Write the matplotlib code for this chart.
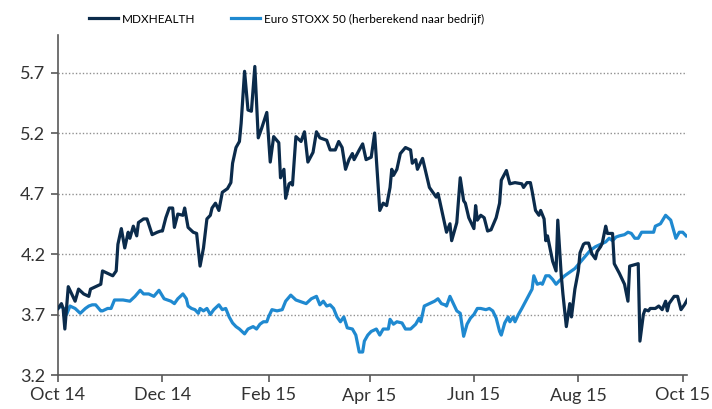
import numpy as np
import pandas as pd
import matplotlib
matplotlib.use("Agg")
import matplotlib.pyplot as plt

START = "2014-10-01"

# MDXHEALTH (days since START, value)
mdx_days = [0, 2, 3, 4, 6, 8, 10, 12, 15, 18, 19, 22, 25, 26, 29, 32, 34, 35, 37, 39, 41, 42, 44, 46, 47,
            50, 52, 55, 58, 60, 61, 63, 65, 67, 68, 70, 73, 74, 76, 79, 81, 83, 85, 87, 89, 90, 92, 94, 96,
            99, 101, 102, 104, 106, 107, 109, 111, 113, 115, 117, 119, 122, 124, 126, 129, 130, 132, 133,
            135, 136, 137, 139, 142, 144, 146, 149, 151, 153, 157, 159, 162, 164, 166, 168, 170, 172, 173,
            176, 178, 180, 183, 185, 188, 190, 192, 194, 195, 196, 198, 200, 203, 206, 207, 209, 210, 213,
            217, 221, 222, 223, 227, 229, 230, 233, 235, 237, 238, 240, 243, 244, 245, 247, 249, 251, 253,
            256, 258, 259, 262, 264, 267, 271, 272, 274, 276, 277, 279, 281, 282, 284, 285, 286, 289, 291,
            292, 294, 295, 297, 299, 300, 302, 304, 305, 307, 308, 310, 312, 314, 315, 317, 318, 320, 321,
            324, 325, 328, 331, 333, 334, 339, 340, 342, 343, 345, 346, 349, 351, 353, 355, 356, 357, 359,
            360, 362, 364, 366, 368]
mdx_vals = [3.75, 3.79, 3.75, 3.58, 3.93, 3.87, 3.81, 3.91, 3.87, 3.85, 3.91, 3.93, 3.95, 4.06, 4.04, 4.02,
            4.06, 4.28, 4.41, 4.25, 4.38, 4.33, 4.43, 4.35, 4.46, 4.49, 4.49, 4.36, 4.38, 4.39, 4.39, 4.50,
            4.58, 4.58, 4.42, 4.53, 4.52, 4.58, 4.42, 4.38, 4.37, 4.10, 4.25, 4.49, 4.52, 4.58, 4.62, 4.56,
            4.71, 4.74, 4.79, 4.95, 5.08, 5.13, 5.28, 5.71, 5.39, 5.38, 5.75, 5.16, 5.24, 5.37, 4.96, 5.17,
            5.12, 4.83, 4.90, 4.66, 4.78, 4.79, 4.77, 5.17, 5.13, 5.21, 4.96, 5.04, 5.21, 5.16, 5.14, 5.06,
            5.06, 5.13, 5.08, 4.90, 4.98, 5.03, 4.98, 5.06, 5.11, 4.98, 5.00, 5.20, 4.56, 4.62, 4.60, 4.75,
            4.90, 4.85, 4.90, 5.03, 5.08, 5.06, 4.95, 4.98, 4.90, 4.99, 4.75, 4.67, 4.70, 4.64, 4.38, 4.45,
            4.31, 4.46, 4.83, 4.64, 4.62, 4.50, 4.41, 4.60, 4.48, 4.52, 4.50, 4.39, 4.40, 4.50, 4.62, 4.81,
            4.89, 4.78, 4.79, 4.78, 4.75, 4.79, 4.79, 4.72, 4.56, 4.52, 4.56, 4.49, 4.31, 4.35, 4.14, 4.06,
            4.48, 4.03, 3.87, 3.60, 3.79, 3.68, 3.91, 4.06, 4.21, 4.28, 4.29, 4.29, 4.20, 4.16, 4.22, 4.26,
            4.29, 4.43, 4.37, 4.37, 4.12, 4.04, 3.95, 3.81, 4.10, 4.12, 3.48, 3.70, 3.74, 3.73, 3.75, 3.75,
            3.77, 3.74, 3.81, 3.73, 3.79, 3.83, 3.85, 3.85, 3.74, 3.78, 3.83]

# Euro STOXX 50 (herberekend naar bedrijf)
sx_days = [0, 2, 4, 5, 7, 10, 13, 16, 18, 20, 22, 25, 26, 29, 31, 33, 38, 42, 45, 48, 50, 53, 56, 59, 62,
           66, 68, 70, 73, 75, 76, 78, 80, 82, 83, 85, 87, 89, 91, 94, 96, 98, 100, 102, 104, 106, 109,
           111, 114, 116, 118, 120, 122, 123, 125, 128, 131, 133, 136, 139, 145, 148, 151, 153, 155, 157,
           159, 161, 163, 165, 167, 169, 172, 174, 175, 176, 178, 179, 181, 183, 186, 188, 190, 193, 194,
           196, 198, 201, 203, 206, 209, 211, 212, 214, 217, 220, 222, 224, 226, 227, 229, 231, 233, 235,
           237, 239, 241, 243, 245, 247, 250, 252, 254, 256, 258, 259, 261, 263, 264, 266, 267, 269, 271,
           274, 277, 278, 280, 282, 283, 285, 287, 289, 291, 293, 296, 299, 302, 305, 308, 311, 314, 317,
           320, 322, 324, 326, 328, 331, 333, 335, 337, 339, 341, 345, 348, 349, 352, 355, 358, 359, 361,
           363, 365, 367]
sx_vals = [3.75, 3.77, 3.74, 3.70, 3.77, 3.75, 3.71, 3.75, 3.77, 3.78, 3.78, 3.73, 3.73, 3.75, 3.75, 3.82,
           3.82, 3.81, 3.85, 3.90, 3.87, 3.87, 3.85, 3.90, 3.83, 3.81, 3.79, 3.83, 3.87, 3.83, 3.77, 3.75,
           3.74, 3.71, 3.75, 3.73, 3.75, 3.70, 3.74, 3.78, 3.74, 3.75, 3.68, 3.63, 3.60, 3.58, 3.54, 3.58,
           3.60, 3.58, 3.62, 3.64, 3.64, 3.68, 3.74, 3.73, 3.74, 3.81, 3.86, 3.82, 3.79, 3.83, 3.85, 3.78,
           3.81, 3.77, 3.78, 3.75, 3.68, 3.64, 3.68, 3.59, 3.58, 3.53, 3.46, 3.39, 3.39, 3.48, 3.53, 3.56,
           3.58, 3.53, 3.58, 3.58, 3.66, 3.62, 3.64, 3.63, 3.58, 3.58, 3.62, 3.67, 3.64, 3.77, 3.79, 3.81,
           3.83, 3.79, 3.78, 3.77, 3.85, 3.79, 3.73, 3.71, 3.52, 3.62, 3.67, 3.70, 3.75, 3.75, 3.74, 3.75,
           3.73, 3.67, 3.56, 3.53, 3.63, 3.68, 3.64, 3.68, 3.64, 3.70, 3.75, 3.83, 3.91, 4.02, 3.95, 3.96,
           3.95, 4.02, 4.02, 3.99, 3.95, 3.98, 4.02, 4.05, 4.08, 4.13, 4.18, 4.23, 4.26, 4.28, 4.30, 4.33,
           4.31, 4.34, 4.35, 4.36, 4.38, 4.37, 4.33, 4.33, 4.38, 4.38, 4.38, 4.43, 4.45, 4.52, 4.48, 4.43,
           4.33, 4.38, 4.38, 4.35]

y_ticks = [3.2, 3.7, 4.2, 4.7, 5.2, 5.7]
x_tick_dates = ["2014-10-01", "2014-12-01", "2015-02-01", "2015-04-01", "2015-06-01", "2015-08-01", "2015-10-01"]
x_tick_labels = ["Oct 14", "Dec 14", "Feb 15", "Apr 15", "Jun 15", "Aug 15", "Oct 15"]
series_names = ["MDXHEALTH", "Euro STOXX 50 (herberekend naar bedrijf)"]

start = pd.Timestamp(START)
mdx_dates = start + pd.to_timedelta(mdx_days, unit="D")
sx_dates = start + pd.to_timedelta(sx_days, unit="D")

plt.rcParams["font.family"] = ["Lato", "DejaVu Sans"]

fig = plt.figure(figsize=(7.12, 4.09), dpi=100)
ax = fig.add_axes([58 / 712, 1 - 375 / 409, (687 - 58) / 712, (375 - 35) / 409])

dark = "#0b2b4b"
light = "#1f89d0"
ax.plot(mdx_dates, mdx_vals, color=dark, lw=2.3, label=series_names[0], zorder=3,
        solid_joinstyle="round")
ax.plot(sx_dates, sx_vals, color=light, lw=2.3, label=series_names[1], zorder=2,
        solid_joinstyle="round")

ax.set_ylim(3.2, 6.01)
ax.set_xlim(start, start + pd.Timedelta(days=367.5))
ax.set_yticks(y_ticks)
ax.set_yticklabels([f"{v:.1f}" for v in y_ticks])
ax.set_xticks(pd.to_datetime(x_tick_dates))
ax.set_xticklabels(x_tick_labels)

ax.grid(axis="y", color="#909090", linestyle=(0, (1, 1.5)), linewidth=1.0)
ax.set_axisbelow(True)
for s in ["top", "right"]:
    ax.spines[s].set_visible(False)
for s in ["left", "bottom"]:
    ax.spines[s].set_color("#595959")
    ax.spines[s].set_linewidth(1.2)
ax.tick_params(axis="both", colors="#595959", length=5, width=1.2, labelsize=13,
               labelcolor="#333333")
ax.tick_params(axis="x", pad=4)
ax.tick_params(axis="y", pad=4)

fig.legend(loc="center left", bbox_to_anchor=(89 / 712, 1 - 19 / 409), ncol=2, frameon=False,
           prop={"family": ["Lato", "DejaVu Sans"], "size": 8.5}, handlelength=2.45,
           handletextpad=0.34, columnspacing=3.0, borderpad=0, borderaxespad=0)

fig.savefig("out.png", dpi=100)
